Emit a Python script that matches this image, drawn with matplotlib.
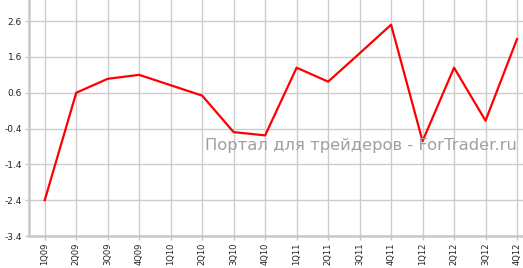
import matplotlib
matplotlib.use("Agg")
import matplotlib.pyplot as plt

quarters = ["1Q09", "2Q09", "3Q09", "4Q09", "1Q10", "2Q10", "3Q10", "4Q10",
            "1Q11", "2Q11", "3Q11", "4Q11", "1Q12", "2Q12", "3Q12", "4Q12"]
values = [-2.4, 0.6, 0.99, 1.1, 0.81, 0.52, -0.5, -0.59,
          1.3, 0.91, 1.7, 2.5, -0.75, 1.3, -0.18, 2.1]
yticks = [-3.4, -2.4, -1.4, -0.4, 0.6, 1.6, 2.6]

W, H = 523, 268
fig = plt.figure(figsize=(W / 100, H / 100), dpi=100)
ax = fig.add_axes([29 / W, (H - 236) / H, (W - 29) / W, 236 / H])

x = list(range(len(quarters)))
ax.plot(x, values, color="#ff0000", lw=1.6, zorder=3)

ax.set_xlim(-0.5, 15.19)
ax.set_ylim(-3.4, 3.19)
ax.set_xticks(x)
ax.set_xticklabels(quarters, rotation=90, fontsize=6, color="#222222")
ax.set_yticks(yticks)
ax.set_yticklabels([f"{v:.1f}" for v in yticks], fontsize=6.5, color="#222222")
ax.grid(True, color="#cccccc", lw=1.0)
ax.set_axisbelow(True)

for s in ["top", "right"]:
    ax.spines[s].set_visible(False)
for s in ["left", "bottom"]:
    ax.spines[s].set_color("#c8c8c8")
    ax.spines[s].set_linewidth(1.8)
ax.tick_params(axis="both", color="#c8c8c8", length=3, width=1, pad=2)

# водяной знак
ax.text(0.988, 0.385, "Портал для трейдеров - ForTrader.ru", transform=ax.transAxes,
        ha="right", va="center", fontsize=11.8, color="#a59e9e")

fig.savefig("out.png", dpi=100)
